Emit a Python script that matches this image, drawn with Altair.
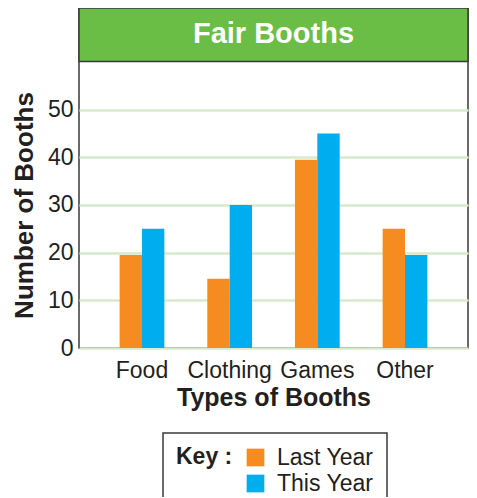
import altair as alt
import pandas as pd

categories = ["Food", "Clothing", "Games", "Other"]
last_year = [19.5, 14.5, 39.5, 25]
this_year = [25, 30, 45, 19.5]
series = ["Last Year", "This Year"]
colors = ["#f68b1f", "#00aeef"]
y_ticks = [0, 10, 20, 30, 40, 50]
chart_title = "Fair Booths"

rows = []
for c, a, b in zip(categories, last_year, this_year):
    rows.append({"Type": c, "Year": series[0], "Value": a})
    rows.append({"Type": c, "Year": series[1], "Value": b})
df = pd.DataFrame(rows)

FONT = "Liberation Sans"
TXT = "#231f20"
TOP = 71.3
HEADER = 60.1
W = 389

bars = alt.Chart(df).mark_bar().encode(
    x=alt.X("Type:N", sort=categories,
            scale=alt.Scale(paddingInner=0.49, paddingOuter=0.4635),
            axis=alt.Axis(title="Types of Booths", labelAngle=0, ticks=False, domain=False,
                          labelFontSize=23, labelFont=FONT, labelColor=TXT, labelPadding=11,
                          titleFontSize=25, titleFont=FONT, titleFontWeight="bold",
                          titleColor=TXT, titlePadding=3)),
    xOffset=alt.XOffset("Year:N", sort=series, scale=alt.Scale(paddingInner=0, paddingOuter=0)),
    y=alt.Y("Value:Q", scale=alt.Scale(domain=[0, TOP], nice=False, zero=True),
            axis=alt.Axis(title="Number of Booths", values=y_ticks, ticks=False, domain=False,
                          grid=True, gridColor="#d7eacb", gridWidth=2.5,
                          labelFontSize=23, labelFont=FONT, labelColor=TXT, labelPadding=6,
                          titleFontSize=26, titleFont=FONT, titleFontWeight="bold",
                          titleColor=TXT, titlePadding=10, titleY=197)),
    color=alt.Color("Year:N", sort=series,
                    scale=alt.Scale(domain=series, range=colors),
                    legend=alt.Legend(title="Key :", orient="none", legendX=84, legendY=425,
                                      titleOrient="left", titleAnchor="start",
                                      titleFontSize=23, titleFont=FONT, titleFontWeight="bold",
                                      titleColor=TXT, titlePadding=11,
                                      labelFontSize=23, labelFont=FONT, labelColor=TXT,
                                      labelOffset=10, symbolType="square", symbolSize=313,
                                      symbolStrokeWidth=0, rowPadding=2, padding=13,
                                      strokeColor="#3a3a3a", fillColor="white")),
)

header_df = pd.DataFrame({"t": [chart_title]})
header = alt.Chart(header_df).mark_rect(color="#6abd45", stroke="#3a3a3a", strokeWidth=1.5).encode(
    x=alt.value(0), x2=alt.value(W), y=alt.datum(HEADER), y2=alt.value(0)
)
header_text = alt.Chart(header_df).mark_text(
    font=FONT, fontSize=29, fontWeight="bold", color="white", baseline="alphabetic", align="center"
).encode(x=alt.value(W / 2), y=alt.datum(64.0), text="t:N")

chart = alt.layer(bars, header, header_text).properties(
    width=W, height=340,
    autosize=alt.AutoSizeParams(type="none"),
    padding={"left": 71, "top": 0, "right": 1, "bottom": 149},
).configure_view(stroke="#3a3a3a", strokeWidth=1.5).configure_legend(strokeWidth=1.5)

chart.save("out.html", embed_options={"renderer": "svg", "actions": False})
